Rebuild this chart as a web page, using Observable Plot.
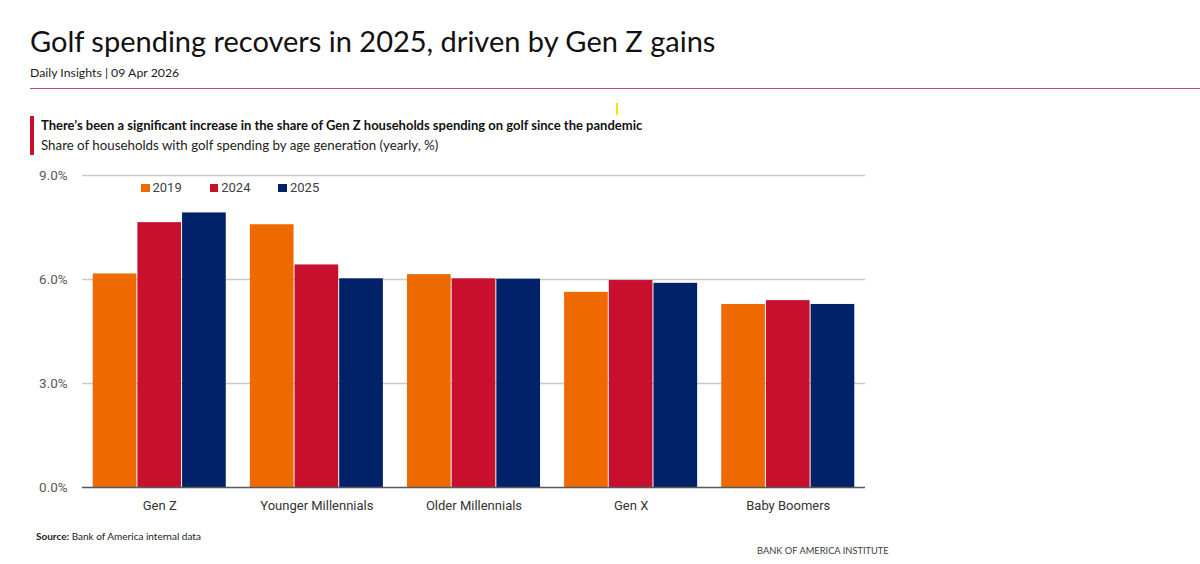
<!DOCTYPE html>
<html>
<head>
<meta charset="utf-8">
<script src="https://cdn.jsdelivr.net/npm/d3@7"></script>
<script src="https://cdn.jsdelivr.net/npm/@observablehq/plot@0.6"></script>
<style>
  html, body { margin: 0; padding: 0; background: #fff; }
  body { width: 1200px; height: 564px; position: relative; overflow: hidden; font-family: Lato, "Open Sans", sans-serif; color: #000; }
  .abs { position: absolute; white-space: nowrap; }
  #title { left: 30px; top: 21px; font-size: 29px; line-height: 40px; color: #111; }
  #date { left: 30px; top: 65px; font-size: 12.3px; line-height: 16px; color: #222; }
  #rule { left: 30px; top: 88px; width: 1170px; height: 1px; background: #c0506a; }
  #mark { left: 616px; top: 103px; width: 2px; height: 12px; background: #ffe000; }
  #bar { left: 30px; top: 116px; width: 4px; height: 39px; background: #c8102e; }
  #head { left: 41px; top: 116px; font-size: 13px; line-height: 18px; font-weight: bold; color: #111; }
  #sub { left: 41px; top: 136px; font-size: 13.3px; line-height: 18px; color: #222; }
  #chart { left: 0px; top: 160px; }
  #legend { left: 141px; top: 179px; font-size: 13px; line-height: 18px; color: #404040; font-family: Roboto, sans-serif; }
  #legend span.sw { display: inline-block; width: 8.5px; height: 8.5px; margin-right: 3px; vertical-align: 0px; }
  #legend span.item { margin-right: 28px; }
  #source { left: 36px; top: 529px; font-size: 10px; line-height: 14px; color: #222; }
  #brand { left: 757px; top: 544px; font-size: 9.3px; line-height: 14px; color: #404040; }
</style>
</head>
<body>
<div class="abs" id="title">Golf spending recovers in 2025, driven by Gen Z gains</div>
<div class="abs" id="date">Daily Insights | 09 Apr 2026</div>
<div class="abs" id="rule"></div>
<div class="abs" id="mark"></div>
<div class="abs" id="bar"></div>
<div class="abs" id="head">There’s been a significant increase in the share of Gen Z households spending on golf since the pandemic</div>
<div class="abs" id="sub">Share of households with golf spending by age generation (yearly, %)</div>
<div class="abs" id="chart"></div>
<div class="abs" id="legend"></div>
<div class="abs" id="source"><b>Source:</b> Bank of America internal data</div>
<div class="abs" id="brand">BANK OF AMERICA INSTITUTE</div>
<script>
const categories = ["Gen Z", "Younger Millennials", "Older Millennials", "Gen X", "Baby Boomers"];
const years = ["2019", "2024", "2025"];
const v2019 = [6.16, 7.58, 6.14, 5.63, 5.28];
const v2024 = [7.64, 6.42, 6.02, 5.97, 5.39];
const v2025 = [7.92, 6.02, 6.01, 5.89, 5.28];
const yTicks = [0, 3, 6, 9];
const colors = ["#ee6a00", "#c8102e", "#012169"];

const series = {"2019": v2019, "2024": v2024, "2025": v2025};
const data = categories.flatMap((c, i) => years.map(y => ({category: c, year: y, value: series[y][i]})));

const W = 880, H = 360, mL = 82, mR = 15, mT = 15, mB = 33;
const innerW = W - mL - mR;
const pIn = 0.147, pOut = 0.065;
const step = innerW / (categories.length - pIn + 2 * pOut);
const facetOffset = pOut * step; // distance from plot left edge to first facet

const chart = Plot.plot({
  width: W, height: H,
  marginLeft: mL, marginRight: mR, marginTop: mT, marginBottom: mB,
  style: {fontFamily: "Roboto, sans-serif", fontSize: "13px", background: "transparent"},
  fx: {domain: categories, paddingInner: pIn, paddingOuter: pOut, round: false, label: null},
  x: {domain: years, padding: 0, round: false, axis: null},
  y: {domain: [0, 9], label: null},
  color: {domain: years, range: colors},
  marks: [
    Plot.axisY(yTicks.slice(1), {tickSize: -innerW, dx: -facetOffset, stroke: "#c8c8c8", strokeWidth: 1.3, tickFormat: () => "", label: null}),
    Plot.axisY(yTicks, {tickSize: 0, tickPadding: 25, fill: "#595959", fontSize: 13.5, tickFormat: d => d.toFixed(1) + "%", label: null}),
    Plot.barY(data, {fx: "category", x: "year", y: "value", fill: "year", insetLeft: 0.5, insetRight: 0.5}),
    Plot.axisY([0], {tickSize: -innerW, dx: -facetOffset, stroke: "#595959", strokeWidth: 1.5, tickFormat: () => "", label: null}),
    Plot.axisFx({anchor: "bottom", tickSize: 0, tickPadding: 13, fill: "#333", label: null})
  ]
});
document.getElementById("chart").appendChild(chart);

const legend = document.getElementById("legend");
years.forEach((y, i) => {
  const item = document.createElement("span");
  item.className = "item";
  item.innerHTML = `<span class="sw" style="background:${colors[i]}"></span>${y}`;
  legend.appendChild(item);
});
</script>
</body>
</html>
